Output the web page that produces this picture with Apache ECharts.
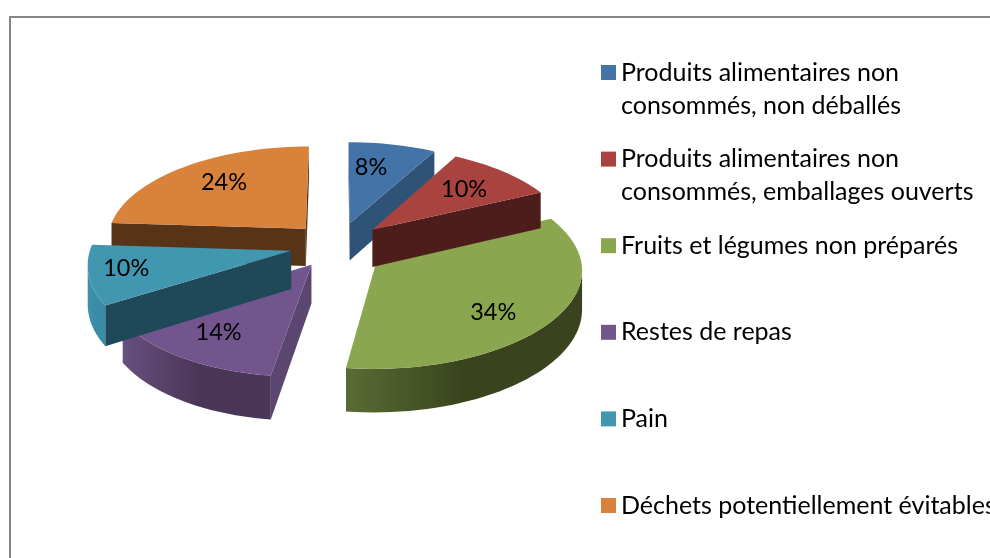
<!DOCTYPE html>
<html><head><meta charset="utf-8">
<style>html,body{margin:0;padding:0;background:#fff}#c{width:990px;height:558px}</style>
<script src="https://cdn.jsdelivr.net/npm/echarts@6/dist/echarts.min.js"></script>
</head><body><div id="c"></div>
<script>
const categories = ['Produits alimentaires non\nconsommés, non déballés','Produits alimentaires non\nconsommés, emballages ouverts','Fruits et légumes non préparés','Restes de repas','Pain','Déchets potentiellement évitables'];
const values = [8,10,34,14,10,24];
const topColors = ['#4473a8','#a8433f','#8aa64e','#71558c','#4197b0','#d8823c'];
const edgeColors = ['#2f5376','#4c1d1b','#3a451f','#5b4672','#1f4958','#573317'];
const arcStops = [['#2f5376','#2f5376'],['#4c1d1b','#4c1d1b'],['#5b6b33','#39441e'],['#66507f','#4a3758'],['#4092ab','#3a8ba5'],['#573317','#573317']];
const paintOrder = [0,2,3,5,4,1];
const labelRadius = [0.5,0.6,0.7,0.78,0.78,0.62];
const labelShift = [[-1,-15],[11,-4],[-5,12],[6,-3],[-8,-1],[-4,-7]];

const CX=338, CY=245, R=200, K=0.474, EXP=48, P=0.000556, H=38, SHEAR=8, FONT='Lato, sans-serif';
const total = values.reduce((a,b)=>a+b,0);
function project(x,y,z){ const f=1/(1+P*y), s=y<0?SHEAR*(y/230)*(y/230):0; return [CX+x*f-s, CY-y*K*f+z*f]; }
function sliceGeometry(i){
  const before = values.slice(0,i).reduce((a,b)=>a+b,0);
  const a0 = before/total*2*Math.PI, a1=(before+values[i])/total*2*Math.PI, mid=(a0+a1)/2;
  const ox=EXP*Math.sin(mid), oy=EXP*Math.cos(mid);
  const steps=Math.max(2,Math.ceil((a1-a0)/0.04));
  const arc=[]; for(let s=0;s<=steps;s++){const a=a0+(a1-a0)*s/steps; arc.push([ox+R*Math.sin(a),oy+R*Math.cos(a)]);}
  return {ox,oy,arc,mid};
}
function wallPoly(p){ const t=p.map(q=>project(q[0],q[1],0)), b=p.map(q=>project(q[0],q[1],H)).reverse(); return t.concat(b); }
function renderSlice(i){
  const g=sliceGeometry(i), kids=[], apex=[g.ox,g.oy];
  const arc=g.arc, first=arc[0], last=arc[arc.length-1];
  const sx=q=>project(q[0],q[1],0)[0];
  if(sx(first)<sx(apex)-1) kids.push({type:'polygon',shape:{points:wallPoly([apex,first])},style:{fill:edgeColors[i]}});
  if(sx(apex)<sx(last)-1) kids.push({type:'polygon',shape:{points:wallPoly([last,apex])},style:{fill:edgeColors[i]}});
  const run=[]; for(let s=0;s<arc.length-1;s++){ if(sx(arc[s+1])<sx(arc[s])){ if(!run.length) run.push(arc[s]); run.push(arc[s+1]); } }
  if(run.length>1) kids.push({type:'polygon',shape:{points:wallPoly(run)},style:{fill:{type:'linear',x:0,y:0,x2:1,y2:0,colorStops:[{offset:0,color:arcStops[i][0]},{offset:0.5,color:arcStops[i][1]},{offset:1,color:arcStops[i][1]}]}}});
  const top=[apex].concat(arc).map(q=>project(q[0],q[1],0));
  kids.push({type:'polygon',shape:{points:top},style:{fill:topColors[i]}});
  const r=R*labelRadius[i], lp=project(g.ox+r*Math.sin(g.mid),g.oy+r*Math.cos(g.mid),0);
  kids.push({type:'text',style:{text:values[i]+'%',x:lp[0]+labelShift[i][0],y:lp[1]+labelShift[i][1],align:'center',verticalAlign:'middle',fill:'#000',font:'23.5px '+FONT}});
  return {type:'group',children:kids};
}
const series=categories.map((name,i)=>({
  type:'custom',name,coordinateSystem:'none',z:2+paintOrder.indexOf(i),silent:true,
  itemStyle:{color:topColors[i]},data:[values[i]],renderItem:()=>renderSlice(i)
}));
const legends=categories.map((name,i)=>{
  const two=name.includes('\n');
  return {show:true,orient:'vertical',left:601,top:56+i*86.6,padding:0,
    data:[{name,icon:two?'path://M0 0L0 0M0 9H15V24H0ZM0 66L0 66':'path://M0 0L0 0M0 9H15V24H0ZM0 33L0 33'}],
    itemWidth:15,itemHeight:two?66:33,itemGap:0,selectedMode:false,
    textStyle:{fontFamily:'Lato, sans-serif',fontSize:25,lineHeight:33,color:'#000'}};
});
const chart=echarts.init(document.getElementById('c'),null,{renderer:'canvas'});
chart.setOption({
  animation:false,backgroundColor:'#fff',legend:legends,series,
  graphic:[{type:'rect',z:0,shape:{x:10,y:17,width:1100,height:700},style:{fill:'#fff',stroke:'#868686',lineWidth:2}}]
});
</script></body></html>
